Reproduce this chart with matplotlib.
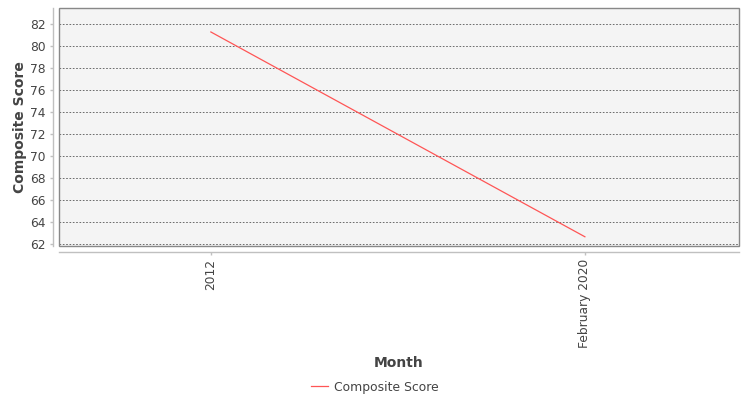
import numpy as np
import matplotlib
matplotlib.use('Agg')
import matplotlib.pyplot as plt
from matplotlib.patches import Rectangle
from matplotlib.lines import Line2D

plt.rcParams['font.family'] = 'DejaVu Sans'

months = ['2012', 'February 2020']
scores = [81.27, 62.64]

fig = plt.figure(figsize=(7.5, 4), dpi=100)
ax = fig.add_axes([59/750, 1 - 246/400, 680/750, 238/400])
ax.set_facecolor('#f4f4f4')

x = np.arange(len(months))
ax.plot(x, scores, color='#ff5555', linewidth=0.9, label='Composite Score')

ax.set_xlim(-0.406, 1.412)
ax.set_ylim(61.8, 83.45)
ax.set_yticks(np.arange(62, 83, 2))
ax.set_xticks(x)
ax.set_xticklabels(months)

ax.grid(axis='y', color='#555555', linestyle=(0, (2, 2)), linewidth=0.6)
ax.set_axisbelow(True)

for s in ['top', 'right']:
    ax.spines[s].set_visible(False)
for s in ['left', 'bottom']:
    ax.spines[s].set_position(('outward', 4))
    ax.spines[s].set_color('#c0c0c0')
    ax.spines[s].set_linewidth(1)
ax.add_patch(Rectangle((0, 0), 1, 1, transform=ax.transAxes, fill=False,
                       edgecolor='#888888', linewidth=1, clip_on=False, zorder=5))

ax.tick_params(axis='both', colors='#c0c0c0', length=2, width=1, labelcolor='#444444', labelsize=8.8)
ax.tick_params(axis='x', labelrotation=90)

ax.set_ylabel('Composite Score', fontsize=10, fontweight='bold', color='#444444', labelpad=6.5)
ax.set_xlabel('Month', fontsize=10, fontweight='bold', color='#444444')
ax.xaxis.set_label_coords(0.5, (246 - 356) / 238)
ax.yaxis.set_label_coords(-(59 - 27) / 680, 0.5)

handle = Line2D([], [], color='#ff5555', linewidth=0.9)
fig.legend([handle], ['Composite Score'], loc='center', bbox_to_anchor=(0.5, 1 - 387/400),
           frameon=False, fontsize=8.9, handlelength=1.4, handletextpad=0.5,
           labelcolor='#444444')

fig.savefig('out.png', dpi=100)
